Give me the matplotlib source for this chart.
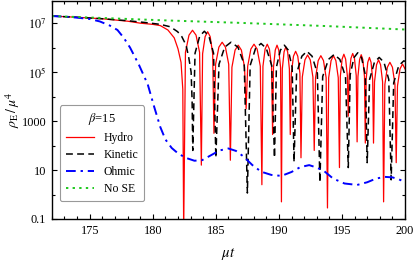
import numpy as np
import matplotlib
matplotlib.use('Agg')
import matplotlib.pyplot as plt
from matplotlib.ticker import FixedLocator, MultipleLocator

plt.rcParams['font.family'] = ['Liberation Serif', 'DejaVu Serif']
plt.rcParams['mathtext.fontset'] = 'stix'

# values, stored as log10(rho_E / mu^4)
hydro_t = [172.0, 174.0, 176.0, 178.0, 179.0, 180.0, 180.6, 181.2, 181.7, 182.0, 182.24, 182.38, 182.45,
           182.59, 182.87, 183.15, 183.43, 183.71, 183.85,
           183.95, 184.15, 184.35, 184.55, 184.75, 184.85,
           184.98, 185.24, 185.5, 185.76, 186.02, 186.15,
           186.275, 186.525, 186.775, 187.025, 187.275, 187.4,
           187.525, 187.775, 188.025, 188.275, 188.525, 188.65,
           188.735, 188.905, 189.075, 189.245, 189.415, 189.5,
           189.57, 189.71, 189.85, 189.99, 190.13, 190.2,
           190.27, 190.41, 190.55, 190.69, 190.83, 190.9,
           190.985, 191.155, 191.325, 191.495, 191.665, 191.75,
           191.855, 192.065, 192.275, 192.485, 192.695, 192.8,
           192.905, 193.115, 193.325, 193.535, 193.745, 193.85,
           193.945, 194.135, 194.325, 194.515, 194.705, 194.8,
           194.87, 195.01, 195.15, 195.29, 195.43, 195.5,
           195.57, 195.71, 195.85, 195.99, 196.13, 196.2,
           196.265, 196.395, 196.525, 196.655, 196.785, 196.85,
           196.915, 197.045, 197.175, 197.305, 197.435, 197.5,
           197.58, 197.74, 197.9, 198.06, 198.22, 198.3,
           198.4, 198.6, 198.8, 199.0, 199.2, 199.3,
           199.4, 199.6, 199.8, 200.0]
hydro_log = [7.29, 7.24, 7.18, 7.08, 7.0, 6.95, 6.9, 6.72, 6.4, 5.95, 5.4, 4.3, -1.5,
             5.81, 6.51, 6.71, 6.51, 5.81, 1.2,
             5.75, 6.45, 6.65, 6.45, 5.75, 2.5,
             5.32, 6.02, 6.22, 6.02, 5.32, 1.4,
             5.2, 5.9, 6.1, 5.9, 5.2, 3.5,
             5.24, 5.94, 6.14, 5.94, 5.24, 0.4,
             5.24, 5.94, 6.14, 5.94, 5.24, 2.45,
             5.2, 5.9, 6.1, 5.9, 5.2, -0.3,
             5.13, 5.83, 6.03, 5.83, 5.13, 2.45,
             4.95, 5.65, 5.85, 5.65, 4.95, 1.5,
             4.8, 5.5, 5.7, 5.5, 4.8, 1.8,
             4.77, 5.47, 5.67, 5.47, 4.77, -0.55,
             4.77, 5.47, 5.67, 5.47, 4.77, 1.1,
             4.83, 5.53, 5.73, 5.53, 4.83, 3.2,
             4.86, 5.56, 5.76, 5.56, 4.86, 2.15,
             4.81, 5.51, 5.71, 5.51, 4.81, 2.1,
             4.7, 5.4, 5.6, 5.4, 4.7, 2.1,
             4.6, 5.3, 5.5, 5.3, 4.6, -0.3,
             4.5, 5.2, 5.4, 5.2, 4.5, 1.3,
             4.43, 5.13, 5.33, 5.13]

kinetic_t = [172.0, 174.0, 176.0, 178.0, 179.5, 180.6, 181.4, 181.97, 182.3, 182.64, 182.85, 183.04, 183.12, 183.17,
             183.35, 183.72, 184.09, 184.45, 184.82, 185.0,
             185.25, 185.7, 186.2, 186.75, 187.25, 187.5,
             187.72, 188.15, 188.58, 189.0, 189.43, 189.65,
             189.8, 190.12, 190.43, 190.74, 191.05, 191.2,
             191.4, 191.82, 192.22, 192.63, 193.05, 193.25,
             193.47, 193.93, 194.38, 194.83, 195.28, 195.5,
             195.65, 195.95, 196.25, 196.55, 196.85, 197.0,
             197.19, 197.57, 197.95, 198.33, 198.71, 198.9,
             199.1, 199.5, 199.9, 200.0]
kinetic_log = [7.29, 7.24, 7.18, 7.1, 7.02, 6.95, 6.85, 6.65, 6.45, 6.1, 5.6, 5.0, 3.8, 1.8,
               5.77, 6.47, 6.67, 6.47, 5.77, 1.5,
               5.32, 6.02, 6.22, 6.02, 5.32, 0.06,
               5.27, 5.97, 6.17, 5.97, 5.27, 1.5,
               5.2, 5.9, 6.1, 5.9, 5.2, 1.33,
               4.95, 5.65, 5.85, 5.65, 4.95, 0.5,
               4.82, 5.52, 5.72, 5.52, 4.82, 1.1,
               4.89, 5.59, 5.79, 5.59, 4.89, 1.3,
               4.7, 5.4, 5.6, 5.4, 4.7, 0.6,
               4.56, 5.26, 5.46, 5.44]

ohmic_t = [172.0, 173.5, 175.0, 175.8, 176.6, 177.2, 177.7, 178.2, 178.9, 179.6, 180.1, 180.6, 181.0,
           181.5, 182.0, 182.6, 183.3, 183.9, 184.6, 185.3, 186.0, 186.6, 187.2, 187.9, 188.6, 189.4,
           190.2, 191.0, 191.7, 192.4, 193.0, 193.6, 194.3, 195.2, 196.2, 197.0, 197.7, 198.4, 199.0,
           199.5, 200.0]
ohmic_log = [7.29, 7.25, 7.17, 7.07, 6.9, 6.72, 6.4, 6.0, 5.3, 4.5, 3.6, 2.75, 2.25,
             1.9, 1.68, 1.5, 1.38, 1.4, 1.6, 1.8, 1.88, 1.78, 1.55, 1.2, 0.93, 0.8,
             0.76, 0.92, 1.12, 1.2, 1.1, 0.95, 0.65, 0.45, 0.39, 0.5, 0.65, 0.72, 0.7,
             0.62, 0.51]

nose_t = [172.0, 180.6, 187.0, 193.8, 200.0]
nose_log = [7.29, 7.12, 7.01, 6.88, 6.74]

fig = plt.figure(figsize=(4.15, 2.61), dpi=100)
ax = fig.add_axes([0.125, 0.161, 0.851, 0.835])

ax.plot(hydro_t, 10 ** np.array(hydro_log), color='red', lw=0.9, label='Hydro')
ax.plot(kinetic_t, 10 ** np.array(kinetic_log), color='black', lw=1.1,
        dashes=(4.5, 2.8), label='Kinetic')
ax.plot(ohmic_t, 10 ** np.array(ohmic_log), color='blue', lw=1.4,
        dashes=(5, 2.5, 1.2, 2.5), label='Ohmic')
ax.plot(nose_t, 10 ** np.array(nose_log), color='#1ec81e', lw=1.4,
        dashes=(1.2, 2.2), label='No SE')

ax.set_yscale('log')
ax.set_xlim(172, 200)
ax.set_ylim(0.1, 8e7)

ax.yaxis.set_major_locator(FixedLocator([0.1, 10, 1000, 1e5, 1e7]))
ax.set_yticklabels(['0.1', '10', '1000', r'$10^5$', r'$10^7$'])
ax.yaxis.set_minor_locator(FixedLocator([1, 100, 1e4, 1e6]))
ax.yaxis.set_minor_formatter(plt.NullFormatter())
ax.xaxis.set_major_locator(MultipleLocator(5))
ax.xaxis.set_minor_locator(MultipleLocator(1))

ax.tick_params(which='both', direction='in', top=True, right=True, labelsize=8.8, width=0.8)
ax.tick_params(which='major', length=3.5, pad=4)
ax.tick_params(which='minor', length=2)
for s in ax.spines.values():
    s.set_linewidth(1.0)

ax.set_xlabel(r'$\mu t$', fontsize=10.5, labelpad=7)
ax.set_ylabel(r'$\rho_{\rm E}\,/\,\mu^4$', fontsize=10, labelpad=0)

leg = ax.legend(loc='lower left', bbox_to_anchor=(0.023, 0.083), borderaxespad=0,
                title=r'$\beta$=15', fontsize=8.5, title_fontsize=9, handlelength=2.4,
                fancybox=True, framealpha=1, edgecolor='#999999', labelspacing=0.42,
                borderpad=0.5)
leg.get_frame().set_linewidth(0.8)

fig.savefig('out.png', dpi=100)
